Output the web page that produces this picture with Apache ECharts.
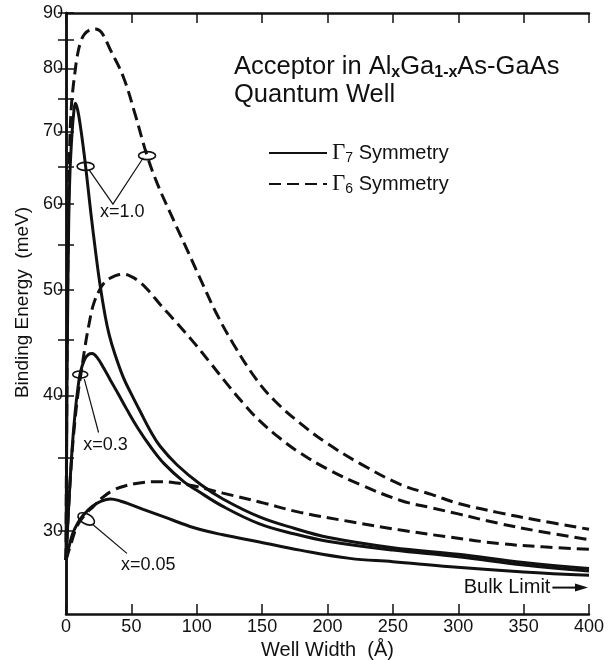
<!DOCTYPE html>
<html>
<head>
<meta charset="utf-8">
<script src="https://cdn.jsdelivr.net/npm/echarts@6/dist/echarts.min.js"></script>
<style>
  html, body { margin: 0; padding: 0; background: #fff; }
  #main { width: 610px; height: 660px; }
</style>
</head>
<body>
<div id="main"></div>
<script>
// well width (A) and binding energy (meV)
var g7x10X = [0, 0.5, 1, 2, 3, 4.6, 6, 7.2, 9, 11, 13, 15, 17, 19, 22.5, 26, 30, 33, 37, 44, 50, 57, 65, 72, 85, 103, 120, 148, 175, 200, 250, 300, 350, 400];
var g7x10Y = [28.2, 36, 44, 57, 64, 69.7, 73, 74.3, 73.2, 70.8, 68.0, 65.0, 61.9, 58.9, 54.4, 50.6, 47.3, 45.5, 43.8, 41.5, 40.1, 38.6, 37.0, 35.9, 34.5, 33.1, 32.1, 30.9, 30.15, 29.6, 28.95, 28.55, 28.05, 27.7];

var g7x03X = [0, 2, 4.6, 7, 9, 11, 14, 17, 20, 24, 28.7, 34, 40, 46.6, 55, 64.4, 75, 90, 100, 120, 148, 175, 200, 250, 300, 350, 400];
var g7x03Y = [28.2, 31.5, 35.6, 38.6, 40.5, 42, 43.1, 43.6, 43.7, 43.3, 42.4, 41.3, 40.1, 38.8, 37.3, 35.9, 34.6, 33.3, 32.7, 31.6, 30.45, 29.8, 29.35, 28.8, 28.4, 27.9, 27.55];

var g7x005X = [0, 2, 5, 9, 13, 20, 27, 34, 42, 50, 59, 75, 98, 120, 148, 179, 217, 250, 294, 350, 400];
var g7x005Y = [28.2, 28.9, 29.8, 30.5, 31.0, 31.6, 31.95, 32.1, 31.95, 31.7, 31.4, 30.9, 30.2, 29.75, 29.3, 28.8, 28.3, 28.1, 27.8, 27.5, 27.3];

var g6x10X = [0, 1, 2, 3, 4, 5.3, 7, 8.5, 11, 14, 18, 22.4, 27, 34, 44, 53, 62, 70, 80, 92.5, 105, 115, 128, 146, 160, 179, 200, 225, 256, 280, 300, 330, 360, 400];
var g6x10Y = [28.2, 47, 60, 69, 73.5, 76.6, 79.6, 82, 84.5, 86, 86.8, 87, 86.4, 83.2, 78.5, 72.5, 66.5, 62.6, 58.8, 54.5, 50.5, 47.6, 44.6, 41.3, 39.5, 37.7, 36.1, 34.6, 33.1, 32.4, 31.8, 31.2, 30.7, 30.1];

var g6x03X = [0, 2, 4, 6, 9, 12, 14.5, 17.3, 21, 26, 30, 34, 40, 44, 50, 57, 64, 72, 85, 98, 110, 123, 135, 148, 165, 179, 200, 225, 256, 280, 300, 330, 360, 400];
var g6x03Y = [28.2, 31.5, 34.5, 37, 40, 42.3, 44.3, 46.3, 48.5, 50.1, 50.9, 51.3, 51.65, 51.7, 51.45, 50.8, 49.8, 48.5, 46.6, 44.7, 42.9, 41.0, 39.4, 37.9, 36.4, 35.4, 34.2, 33.1, 32.0, 31.5, 31.1, 30.5, 30.0, 29.45];

var g6x005X = [0, 5, 8.4, 14, 21, 28, 36, 45, 59, 72, 85, 98, 120, 148, 179, 217, 256, 294, 332, 365, 400];
var g6x005Y = [28.2, 29.5, 30.3, 31.0, 31.6, 32.2, 32.7, 33.0, 33.25, 33.3, 33.2, 33.0, 32.5, 31.9, 31.2, 30.6, 30.05, 29.6, 29.2, 29.0, 28.85];

var yLabels = [30, 40, 50, 60, 70, 80, 90];
var yTicks = [30, 35, 40, 45, 50, 55, 60, 65, 70, 75, 80, 85, 90];
var bulkLimit = 26.6;

var ink = '#111';
var font = 'Liberation Sans';

function curve(name, xs, ys, dashed) {
  return {
    name: name,
    type: 'line',
    data: xs.map(function (x, i) { return [x, ys[i]]; }),
    symbol: 'none',
    smooth: 0.4,
    silent: true,
    lineStyle: { color: ink, width: 3, type: dashed ? [12, 6] : 'solid' },
    itemStyle: { color: ink }
  };
}

var chart = echarts.init(document.getElementById('main'));

var xBase = {
  type: 'value', min: 0, max: 400, interval: 50,
  splitLine: { show: false },
  axisLine: { lineStyle: { color: ink, width: 2.5 } },
  axisTick: { inside: true, length: 10, lineStyle: { color: ink, width: 1.5 } }
};
var yBase = {
  type: 'log', logBase: 10, min: 25.15, max: 90,
  splitLine: { show: false },
  axisLine: { show: true, lineStyle: { color: ink, width: 2.5 } },
  axisTick: { inside: true, length: 8, customValues: yTicks, lineStyle: { color: ink, width: 1.5 } }
};

var option = {
  animation: false,
  backgroundColor: '#fff',
  grid: { left: 66, right: 21, top: 13, bottom: 46, containLabel: false, outerBoundsMode: 'none' },
  title: {
    text: '{n|Acceptor in Al}{s|x}{n|Ga}{s|1-x}{n|As-GaAs}\n{n|Quantum Well}',
    left: 234, top: 53, padding: 0,
    textStyle: {
      fontWeight: 'normal',
      rich: {
        n: { fontSize: 25.5, fontFamily: font, fontWeight: 'normal', color: ink, lineHeight: 28 },
        s: { fontSize: 16, fontFamily: font, fontWeight: 'bold', color: ink, lineHeight: 14, verticalAlign: 'bottom' }
      }
    }
  },
  legend: {
    left: 268, top: 141, orient: 'vertical', padding: 0,
    itemWidth: 58, itemHeight: 14, itemGap: 7,
    itemStyle: { opacity: 0 },
    data: ['Γ7 Symmetry', 'Γ6 Symmetry'],
    formatter: function (name) {
      return '{g|Γ}{s|' + name.charAt(1) + '}{t| Symmetry}';
    },
    textStyle: {
      color: ink, lineHeight: 24,
      rich: {
        g: { fontFamily: 'Liberation Serif', fontSize: 23, color: ink, lineHeight: 24 },
        s: { fontFamily: font, fontSize: 14, color: ink, lineHeight: 12, verticalAlign: 'bottom' },
        t: { fontFamily: font, fontSize: 20, color: ink, lineHeight: 24 }
      }
    }
  },
  xAxis: [
    Object.assign({}, xBase, {
      position: 'bottom',
      name: 'Well Width  (Å)', nameLocation: 'middle', nameGap: 20,
      nameTextStyle: { fontFamily: font, fontSize: 20, color: ink },
      axisLabel: { margin: 4, fontFamily: font, fontSize: 18, color: ink }
    }),
    Object.assign({}, xBase, { position: 'top', axisLabel: { show: false } })
  ],
  yAxis: [
    Object.assign({}, yBase, {
      position: 'left',
      name: 'Binding Energy  (meV)', nameLocation: 'middle', nameGap: 30, nameRotate: 90,
      nameTextStyle: { fontFamily: font, fontSize: 19, color: ink, padding: [0, 0, 0, 22] },
      axisLabel: {
        margin: 3, fontFamily: font, fontSize: 18, color: ink, customValues: yLabels,
        formatter: function (v) { return String(Math.round(v)); }
      }
    }),
    Object.assign({}, yBase, { position: 'right', axisLabel: { show: false } })
  ],
  series: [
    curve('Γ7 Symmetry', g7x10X, g7x10Y, false),
    curve('Γ7 Symmetry', g7x03X, g7x03Y, false),
    curve('Γ7 Symmetry', g7x005X, g7x005Y, false),
    curve('Γ6 Symmetry', g6x10X, g6x10Y, true),
    curve('Γ6 Symmetry', g6x03X, g6x03Y, true),
    curve('Γ6 Symmetry', g6x005X, g6x005Y, true)
  ]
};
chart.setOption(option);

// annotations: ellipses, leader lines, x labels, bulk limit arrow
function px(x, y) {
  return chart.convertToPixel({ xAxisIndex: 0, yAxisIndex: 0 }, [x, y]);
}
var ann = [];
function leader(pts) {
  ann.push({ type: 'polyline', shape: { points: pts.map(function (p) { return px(p[0], p[1]); }) },
    style: { stroke: ink, lineWidth: 1.2, fill: 'none' }, z: 10 });
}
function ring(x, y, rx, ry, rot) {
  var c = px(x, y);
  ann.push({ type: 'ellipse', x: c[0], y: c[1], rotation: rot || 0, shape: { cx: 0, cy: 0, rx: rx, ry: ry },
    style: { stroke: ink, lineWidth: 1.6, fill: 'none' }, z: 10 });
}
function note(x, y, t) {
  var c = px(x, y);
  ann.push({ type: 'text', x: c[0], y: c[1], z: 10,
    style: { text: t, fontFamily: font, fontSize: 18, fill: ink, align: 'center', verticalAlign: 'middle' } });
}

ring(15, 65, 8.5, 4);
ring(62, 66.5, 8.5, 4);
leader([[17.8, 64.5], [35.9, 60], [59.1, 66.2]]);
note(43, 58.95, 'x=1.0');

ring(10.9, 41.8, 7.5, 3.5);
leader([[14, 41.4], [24.9, 36.96]]);
note(30.3, 36.0, 'x=0.3');

ring(15.5, 30.77, 9, 5, -0.5);
leader([[20.9, 30.38], [46.6, 28.6]]);
note(62.9, 27.9, 'x=0.05');

var b0 = px(372, bulkLimit), b1 = px(400, bulkLimit);
ann.push({ type: 'line', shape: { x1: b0[0], y1: b0[1], x2: b1[0] - 10, y2: b1[1] },
  style: { stroke: ink, lineWidth: 2 }, z: 10 });
ann.push({ type: 'polygon', shape: { points: [[b1[0] - 1, b1[1]], [b1[0] - 14, b1[1] - 4], [b1[0] - 14, b1[1] + 4]] },
  style: { fill: ink }, z: 10 });
ann.push({ type: 'text', x: b0[0] - 2, y: b1[1], z: 10,
  style: { text: 'Bulk Limit', fontFamily: font, fontSize: 20, fill: ink, align: 'right', verticalAlign: 'middle' } });

chart.setOption({ graphic: ann });
</script>
</body>
</html>
